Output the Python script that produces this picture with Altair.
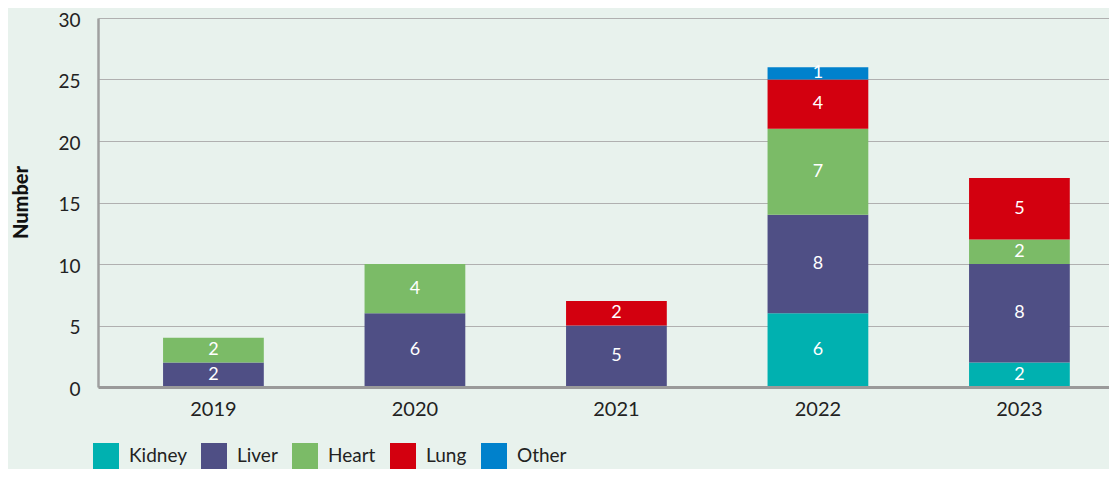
import altair as alt
import pandas as pd

years = ["2019", "2020", "2021", "2022", "2023"]
organs = ["Kidney", "Liver", "Heart", "Lung", "Other"]
kidney = [0, 0, 0, 6, 2]
liver = [2, 6, 5, 8, 8]
heart = [2, 4, 0, 7, 2]
lung = [0, 0, 2, 4, 5]
other = [0, 0, 0, 1, 0]
colors = ["#00b1b0", "#4f4f85", "#7bbb67", "#d3000f", "#0081cc"]

series = [kidney, liver, heart, lung, other]
rows = []
for i, yr in enumerate(years):
    for j, (org, vals) in enumerate(zip(organs, series)):
        if vals[i] > 0:
            rows.append(dict(year=yr, organ=org, order=j, value=vals[i]))
df = pd.DataFrame(rows)

FONT = "Lato"

base = alt.Chart(df).transform_stack(
    stack="value", groupby=["year"], as_=["y0", "y1"], sort=[alt.SortField("order")]
).transform_calculate(mid="(datum.y0 + datum.y1) / 2")

xenc = alt.X(
    "year:N",
    sort=years,
    title=None,
    scale=alt.Scale(paddingInner=0.5, paddingOuter=0.2587, align=0.624),
    axis=alt.Axis(
        labelAngle=0, labelFont=FONT, labelFontSize=20, labelColor="#222222",
        labelPadding=12, ticks=False, domainColor="#9a9a9a", domainWidth=3,
        zindex=1, grid=False,
    ),
)

bars = base.mark_bar().encode(
    x=xenc,
    y=alt.Y(
        "y0:Q",
        scale=alt.Scale(domain=[0, 30], nice=False),
        title="Number",
        axis=alt.Axis(
            values=[0, 5, 10, 15, 20, 25, 30], labelFont=FONT, labelFontSize=19,
            labelColor="#222222", labelPadding=18, labelOffset=2, ticks=False,
            domainColor="#a0a0a0", domainWidth=2.5, gridColor="#b0b0b0",
            gridWidth=1.2, titleFont=FONT, titleFontSize=20, titleFontWeight=900,
            titleColor="#111111", titleX=-77, titleY=184, titleBaseline="middle",
            titleAngle=-90,
        ),
    ),
    y2="y1:Q",
    color=alt.Color(
        "organ:N",
        scale=alt.Scale(domain=organs, range=colors),
        legend=alt.Legend(
            title=None, orient="none", legendX=-5, legendY=425, direction="horizontal",
            symbolType="square", symbolSize=676, symbolStrokeWidth=0, symbolOpacity=1,
            labelFont=FONT, labelFontSize=19, labelColor="#222222",
            labelOffset=10, columnPadding=14, padding=0,
        ),
    ),
)

labels = base.mark_text(color="white", fontSize=18, font=FONT).encode(
    x=xenc, y="mid:Q", text="value:Q"
)

chart = (bars + labels).properties(
    width=1011, height=369, background="#e8f2ed",
    autosize=alt.AutoSizeParams(type="none"),
    padding={"left": 90, "top": 10, "right": 0, "bottom": 82},
).configure_view(stroke=None)

chart.save("out.html", embed_options={"renderer": "svg", "actions": False})
